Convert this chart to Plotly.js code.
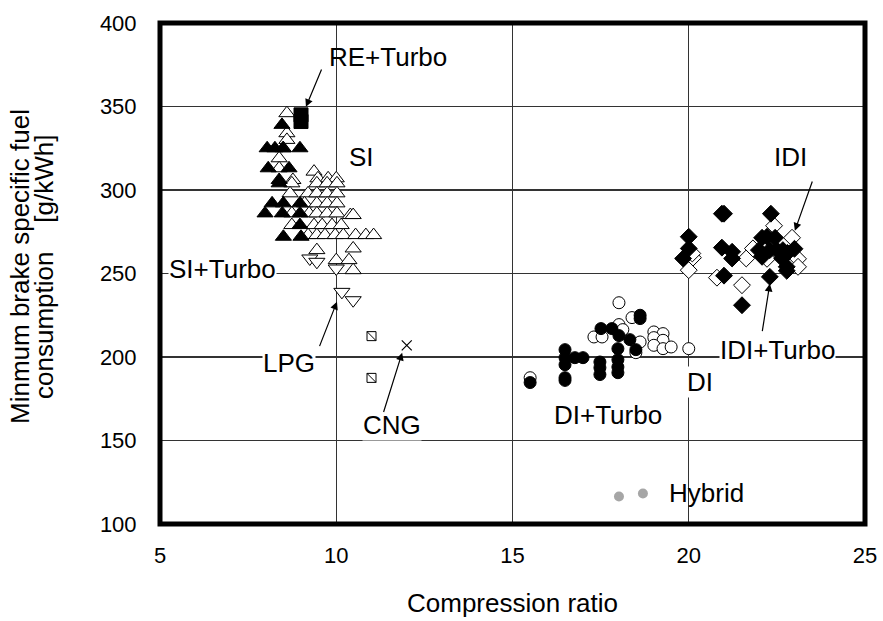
<!DOCTYPE html>
<html>
<head>
<meta charset="utf-8">
<script src="https://cdn.plot.ly/plotly-3.0.1.min.js"></script>
<style>html,body{margin:0;padding:0;background:#fff;}#chart{width:883px;height:621px;}</style>
</head>
<body>
<div id="chart"></div>
<script>
// ---- Data ----
const siX = [8.60, 8.60, 8.60, 8.50, 8.38, 8.38, 9.37, 8.77, 9.48, 9.77, 10.00,
  8.74, 9.45, 9.74, 10.02, 8.69, 9.20, 9.45, 9.74, 10.02, 9.10, 9.45, 9.74, 10.02,
  8.74, 9.23, 9.45, 9.74, 10.02, 10.40, 10.48, 8.74, 9.37, 9.60, 9.88, 10.14,
  9.20, 9.45, 9.68, 9.97, 10.20, 10.55, 10.84, 11.06, 9.45, 10.48, 10.00, 10.36, 10.48];
const siY = [346, 334, 330, 325, 319, 313, 311, 306, 307, 307, 307,
  304, 304, 304, 304, 298, 298, 298, 298, 298, 292, 292, 292, 292,
  286, 286, 286, 286, 286, 285, 285, 279, 279, 279, 279, 279,
  273, 273, 273, 273, 273, 273, 273, 273, 264, 265, 258, 258, 252];

const siTurboX = [8.46, 8.04, 8.26, 8.49, 8.97, 8.07, 8.66, 8.38, 8.18, 8.50, 8.97,
  7.98, 8.47, 8.97, 8.97, 8.50, 9.00, 8.38];
const siTurboY = [339, 325, 325, 325, 325, 313, 313, 306, 292, 292, 292,
  286, 286, 286, 279, 272, 272, 304];

const lpgX = [9.25, 9.45, 10.00, 10.16, 10.48];
const lpgY = [259, 257, 253, 239, 234];

const reTurboX = [9.0, 9.0];
const reTurboY = [345, 341];

const cngSqX = [11.0, 11.0];
const cngSqY = [212.5, 187.5];
const cngCrossX = [12.0];
const cngCrossY = [207];

const diX = [18.02, 18.39, 18.02, 18.13, 17.31, 17.54, 18.62, 18.50, 19.01, 19.27,
  19.01, 19.27, 19.01, 19.27, 19.50, 20.00, 15.50];
const diY = [232.5, 223.6, 219.4, 216.4, 212, 212, 209, 202.6, 215, 214,
  211.6, 210, 207, 205, 206, 205, 187.6];

const diTurboX = [18.62, 18.62, 17.51, 17.82, 18.02, 18.33, 17.99, 18.50, 16.49, 16.49,
  16.49, 16.49, 16.77, 17.00, 17.48, 17.48, 17.48, 17.99, 17.99, 17.99, 15.50, 16.49];
const diTurboY = [223, 225, 217, 217, 212.8, 210.4, 205, 204.4, 204.4, 199.6,
  195.4, 187.6, 199.6, 199.6, 197, 193.6, 189.5, 198.4, 194, 190.6, 184.7, 186];

const idiX = [20.12, 20.10, 20.00, 21.63, 20.80, 21.51, 22.42, 21.82, 22.22, 22.93, 23.10, 23.10];
const idiY = [259.5, 262, 252, 259, 247.5, 243, 278.6, 265, 258.8, 271.4, 258.8, 254];

const idiTurboX = [20.00, 20.00, 19.84, 20.94, 21.00, 20.94, 21.23, 21.23, 21.00, 21.51,
  22.33, 22.08, 22.22, 22.45, 21.99, 22.30, 22.50, 22.08, 22.67, 22.80, 23.00, 22.65,
  22.78, 22.78, 22.30];
const idiTurboY = [272, 265, 259, 285.8, 285.8, 265.5, 263, 259, 248.7, 231,
  285.8, 271.4, 272, 271.4, 264, 264, 264, 260, 264, 262.3, 264.8, 259,
  254, 251.6, 248];

const hybridX = [18.02, 18.70];
const hybridY = [116.5, 118.3];

// Labels
const labelText = ["RE+Turbo", "SI", "SI+Turbo", "LPG", "CNG", "DI+Turbo", "DI", "IDI", "IDI+Turbo", "Hybrid"];
const labelX = [11.47, 10.73, 6.76, 8.66, 11.58, 17.71, 20.32, 22.90, 22.53, 20.49];
const labelY = [379.7, 320, 252.5, 196.7, 159, 165.5, 185.3, 320, 204.4, 118.3];
const labelBg = [false, false, true, true, true, false, true, false, true, false];

// Arrows: tail -> tip
const arrowTailX = [9.60, 9.51, 11.33, 23.52, 22.08];
const arrowTailY = [373, 205.6, 166.2, 306, 214.6];
const arrowTipX = [9.14, 10.02, 11.87, 23.01, 22.30];
const arrowTipY = [349.8, 233.1, 202.6, 275.6, 243.9];

const yTitleLines = ["Minmum brake specific fuel", "consumption\u00a0\u00a0\u00a0\u00a0[g/kWh]"];

const xTicks = [5, 10, 15, 20, 25];
const yTicks = [100, 150, 200, 250, 300, 350, 400];

// ---- Traces ----
function sc(x, y, symbol, size, fill, lineW, lineC) {
  return {x: x, y: y, type: 'scatter', mode: 'markers', showlegend: false, hoverinfo: 'skip',
    marker: {symbol: symbol, size: size, color: fill, line: {width: lineW, color: lineC || '#000'}}};
}
const traces = [
  sc(siX, siY, 'triangle-up', 14, '#fff', 1),
  sc(siTurboX, siTurboY, 'triangle-up', 14, '#000', 1),
  sc(lpgX, lpgY, 'triangle-down', 14, '#fff', 1),
  sc(reTurboX, reTurboY, 'square', 14, '#000', 1),
  sc(cngSqX, cngSqY, 'square', 9, '#fff', 1),
  sc(cngSqX, cngSqY, 'line-nw', 9, '#000', 1),
  sc(cngCrossX, cngCrossY, 'x-thin-open', 10, '#000', 1.2),
  sc(diX, diY, 'circle', 12, '#fff', 1),
  sc(diTurboX, diTurboY, 'circle', 12, '#000', 1),
  sc(idiX, idiY, 'diamond', 13, '#fff', 1),
  sc(idiTurboX, idiTurboY, 'diamond', 13, '#000', 1),
  sc(hybridX, hybridY, 'circle', 10, '#a6a6a6', 0, '#a6a6a6')
];

const FONT = 'Liberation Sans, Arial, sans-serif';
const annotations = [];
for (let i = 0; i < labelText.length; i++) {
  annotations.push({x: labelX[i], y: labelY[i], xref: 'x', yref: 'y', text: labelText[i],
    showarrow: false, font: {family: FONT, size: 26, color: '#000'},
    bgcolor: labelBg[i] ? '#fff' : 'rgba(0,0,0,0)', borderpad: 0});
}
for (let i = 0; i < arrowTipX.length; i++) {
  annotations.push({x: arrowTipX[i], y: arrowTipY[i], xref: 'x', yref: 'y',
    ax: arrowTailX[i], ay: arrowTailY[i], axref: 'x', ayref: 'y', text: '',
    showarrow: true, arrowhead: 2, arrowsize: 1.3, arrowwidth: 1.2, arrowcolor: '#000'});
}
// y-axis title, two tightly spaced lines (pixel x 20 and 44 -> paper coords)
const yTitleXs = [(20 - 160) / 705, (44 - 160) / 705];
for (let i = 0; i < yTitleLines.length; i++) {
  annotations.push({x: yTitleXs[i], y: 0.513, xref: 'paper', yref: 'paper', textangle: -90,
    xanchor: 'center', yanchor: 'middle', text: yTitleLines[i], showarrow: false,
    font: {family: FONT, size: 26, color: '#000'}});
}

const layout = {
  width: 883, height: 621,
  margin: {l: 160, r: 18, t: 23, b: 96.5},
  paper_bgcolor: '#fff', plot_bgcolor: '#fff',
  font: {family: FONT, size: 22, color: '#000'},
  xaxis: {range: [5, 25], tickvals: xTicks, showgrid: true, gridcolor: '#333', gridwidth: 1.2,
    zeroline: false, showline: false, ticks: 'outside', ticklen: 12, tickcolor: 'rgba(0,0,0,0)',
    tickfont: {family: FONT, size: 22},
    title: {text: 'Compression ratio', font: {family: FONT, size: 26}, standoff: 26}},
  yaxis: {range: [100, 400], tickvals: yTicks, showgrid: true, gridcolor: '#333', gridwidth: 1.2,
    zeroline: false, showline: false, ticks: 'outside', ticklen: 18, tickcolor: 'rgba(0,0,0,0)',
    tickfont: {family: FONT, size: 22}},
  shapes: [{type: 'rect', xref: 'paper', yref: 'paper', x0: 0, x1: 1, y0: 0, y1: 1,
    line: {color: '#000', width: 5}, layer: 'above'}],
  annotations: annotations
};

Plotly.newPlot('chart', traces, layout, {displayModeBar: false, staticPlot: true});
</script>
</body>
</html>
